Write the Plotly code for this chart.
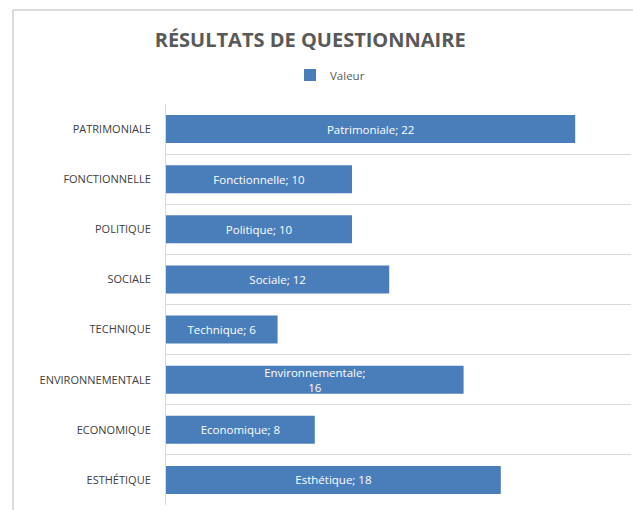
import plotly.graph_objects as go

categories = ["PATRIMONIALE", "FONCTIONNELLE", "POLITIQUE", "SOCIALE",
              "TECHNIQUE", "ENVIRONNEMENTALE", "ECONOMIQUE", "ESTHÉTIQUE"]
bar_names = ["Patrimoniale", "Fonctionnelle", "Politique", "Sociale",
             "Technique", "Environnementale", "Economique", "Esthétique"]
values = [22, 10, 10, 12, 6, 16, 8, 18]

texts = [f"{n};{'<br>' if len(n) > 14 else ' '}{v}" for n, v in zip(bar_names, values)]

fig = go.Figure()
fig.add_trace(go.Bar(
    y=categories, x=values, orientation="h", name="Valeur",
    marker=dict(color="#4a7ebb", line=dict(width=0)),
    text=texts, textposition="inside", insidetextanchor="middle",
    textfont=dict(color="white", size=11.5, family="Open Sans"),
    showlegend=True,
))

fig.update_layout(
    width=633, height=510,
    margin=dict(l=166, r=2, t=104, b=5),
    paper_bgcolor="white", plot_bgcolor="white",
    bargap=0.44,
    title=dict(text="<b>RÉSULTATS DE QUESTIONNAIRE</b>", x=0.49, xanchor="center",
               y=0.922, yanchor="middle",
               font=dict(family="Open Sans", size=20, color="#595959")),
    legend=dict(orientation="h", x=(290 - 166) / 465, xanchor="left",
                y=(505 - 75) / 401, yanchor="middle", itemwidth=30,
                font=dict(family="Open Sans", size=11.5, color="#595959")),
    font=dict(family="Open Sans", color="#595959"),
    uniformtext=dict(mode="show", minsize=9),
    shapes=[
        dict(type="line", xref="paper", yref="paper",
             x0=(13 - 166) / 465, x1=(13 - 166) / 465,
             y0=(505 - 510) / 401, y1=(505 - 10) / 401,
             line=dict(color="#cfcfcf", width=1.5), layer="above"),
        dict(type="line", xref="paper", yref="paper",
             x0=(13 - 166) / 465, x1=1.01,
             y0=(505 - 10) / 401, y1=(505 - 10) / 401,
             line=dict(color="#cfcfcf", width=1.5), layer="above"),
    ],
)

fig.update_xaxes(range=[0, 25], showgrid=False, showticklabels=False, zeroline=False,
                 showline=False)
fig.update_yaxes(categoryorder="array", categoryarray=categories, autorange="reversed",
                 tickson="boundaries", showgrid=True, gridcolor="#d9d9d9", gridwidth=1,
                 showline=True, linecolor="#d9d9d9", ticks="",
                 ticklabelstandoff=12,
                 tickfont=dict(family="Open Sans", size=11, color="#404040"))

fig.write_html("out.html")
